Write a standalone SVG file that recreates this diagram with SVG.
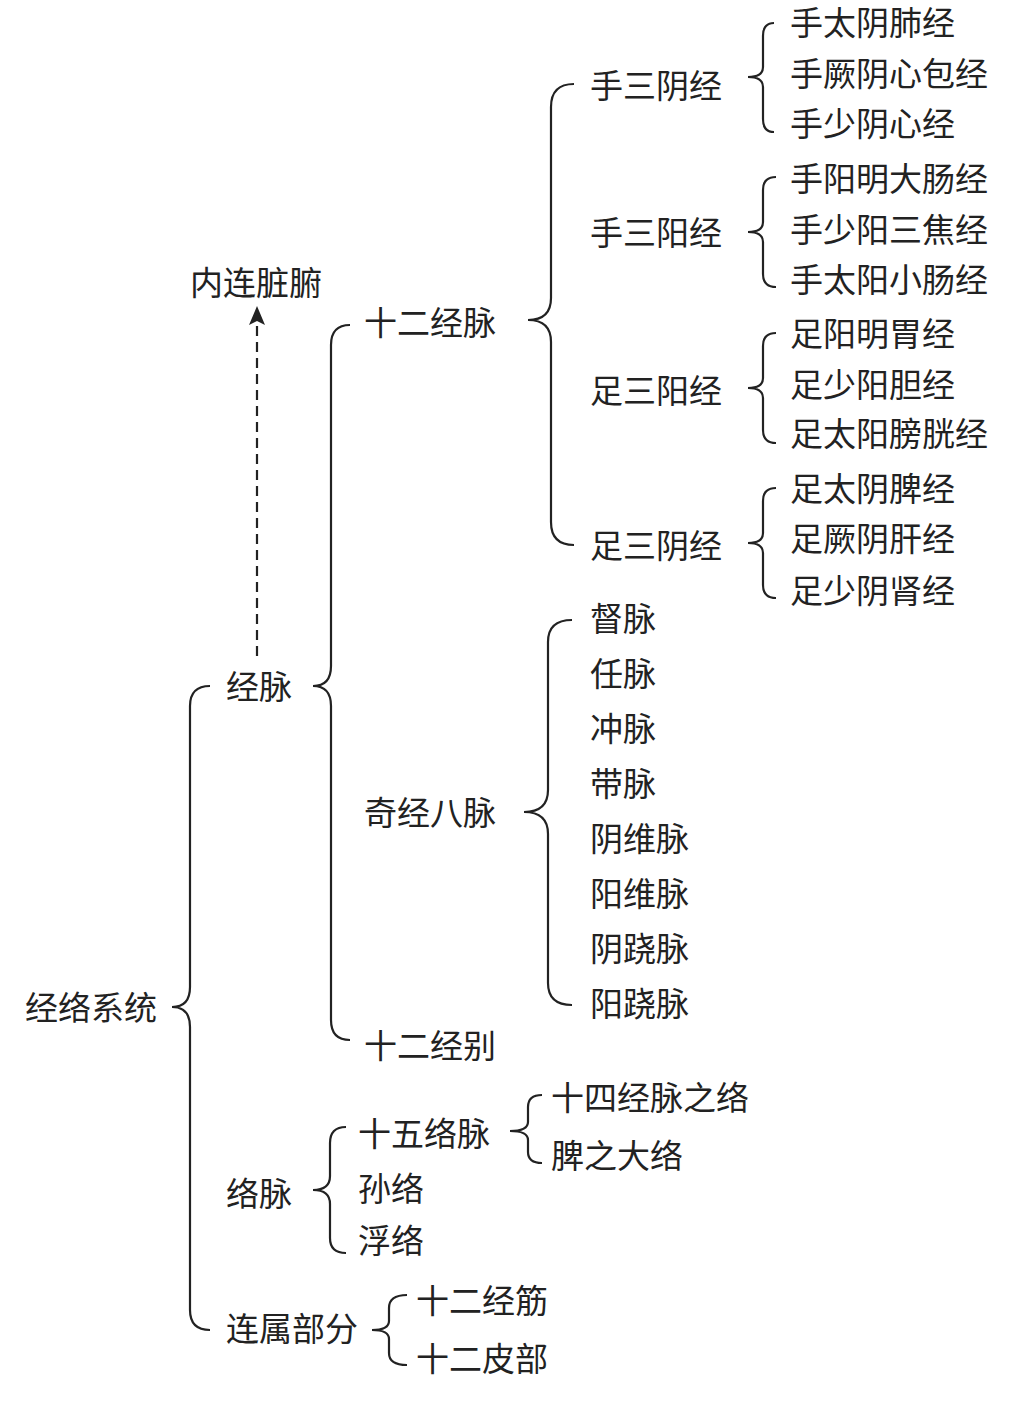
<svg xmlns="http://www.w3.org/2000/svg" width="1015" height="1409" viewBox="0 0 1015 1409">
<style>
text{font-family:"Liberation Serif","Noto Sans CJK SC",serif;font-size:33px;fill:#222;dominant-baseline:central}
.br{fill:none;stroke:#222;stroke-width:2.2}
.dash{fill:none;stroke:#222;stroke-width:2.2;stroke-dasharray:10,6}
</style>
<rect width="1015" height="1409" fill="#fff"/>
<g id="connectors">
<path class="br" d="M210,686 Q190,686 190,706 L190,987 Q190,1007 172,1007 Q190,1007 190,1027 L190,1310 Q190,1330 210,1330"/>
<path class="br" d="M350,325 Q331,325 331,345 L331,666 Q331,686 313,686 Q331,686 331,706 L331,1020 Q331,1040 350,1040"/>
<path class="br" d="M574,84 Q551,84 551,107 L551,298 Q551,320 528,320 Q551,320 551,342 L551,522 Q551,545 574,545"/>
<path class="br" d="M774,23 Q763,23 763,36 L763,67 Q763,77 748,77 Q763,77 763,87 L763,119 Q763,132 774,132"/>
<path class="br" d="M776,177 Q763,177 763,190 L763,222 Q763,232 748,232 Q763,232 763,242 L763,274 Q763,287 776,287"/>
<path class="br" d="M776,333 Q763,333 763,346 L763,378 Q763,388 748,388 Q763,388 763,398 L763,430 Q763,443 776,443"/>
<path class="br" d="M776,488 Q763,488 763,501 L763,533 Q763,543 748,543 Q763,543 763,553 L763,585 Q763,598 776,598"/>
<path class="br" d="M572,620 Q548,620 548,642 L548,790 Q548,812 524,812 Q548,812 548,834 L548,983 Q548,1005 572,1005"/>
<path class="br" d="M346,1127 Q330,1127 330,1143 L330,1176 Q330,1190 313,1190 Q330,1190 330,1204 L330,1238 Q330,1253 346,1253"/>
<path class="br" d="M542,1095 Q528,1095 528,1107 L528,1122 Q528,1131 510,1131 Q528,1131 528,1140 L528,1152 Q528,1163 542,1163"/>
<path class="br" d="M407,1295 Q389,1295 389,1308 L389,1321 Q389,1330 372,1330 Q389,1330 389,1339 L389,1353 Q389,1365 407,1365"/>
<line class="dash" x1="257" y1="656" x2="257" y2="322"/>
<path d="M257,306 L265,325 L257,321 L249,325 Z" fill="#222"/>
</g>
<g transform="translate(0,2)">
<g id="n-jingluo"><text x="25" y="1007">经络系统</text></g>
<g id="n-jingmai"><text x="226" y="686">经脉</text></g>
<g id="n-neilian"><text x="190" y="282">内连脏腑</text></g>
<g id="n-luomai"><text x="226" y="1193">络脉</text></g>
<g id="n-lianshu"><text x="226" y="1328">连属部分</text></g>
<g id="n-shier"><text x="364" y="322">十二经脉</text></g>
<g id="n-qijing"><text x="364" y="812">奇经八脉</text></g>
<g id="n-jingbie"><text x="364" y="1045">十二经别</text></g>
<g id="n-shousanyin"><text x="590" y="85">手三阴经</text></g>
<g id="n-shousanyang"><text x="590" y="232">手三阳经</text></g>
<g id="n-zusanyang"><text x="590" y="390">足三阳经</text></g>
<g id="n-zusanyin"><text x="590" y="545">足三阴经</text></g>
<g id="n-m1"><text x="790" y="22">手太阴肺经</text></g>
<g id="n-m2"><text x="790" y="73">手厥阴心包经</text></g>
<g id="n-m3"><text x="790" y="123">手少阴心经</text></g>
<g id="n-m4"><text x="790" y="178">手阳明大肠经</text></g>
<g id="n-m5"><text x="790" y="229">手少阳三焦经</text></g>
<g id="n-m6"><text x="790" y="279">手太阳小肠经</text></g>
<g id="n-m7"><text x="790" y="333">足阳明胃经</text></g>
<g id="n-m8"><text x="790" y="384">足少阳胆经</text></g>
<g id="n-m9"><text x="790" y="433">足太阳膀胱经</text></g>
<g id="n-m10"><text x="790" y="488">足太阴脾经</text></g>
<g id="n-m11"><text x="790" y="538">足厥阴肝经</text></g>
<g id="n-m12"><text x="790" y="590">足少阴肾经</text></g>
<g id="n-du"><text x="590" y="618">督脉</text></g>
<g id="n-ren"><text x="590" y="673">任脉</text></g>
<g id="n-chong"><text x="590" y="728">冲脉</text></g>
<g id="n-dai"><text x="590" y="783">带脉</text></g>
<g id="n-yinwei"><text x="590" y="838">阴维脉</text></g>
<g id="n-yangwei"><text x="590" y="893">阳维脉</text></g>
<g id="n-yinqiao"><text x="590" y="948">阴跷脉</text></g>
<g id="n-yangqiao"><text x="590" y="1003">阳跷脉</text></g>
<g id="n-shiwu"><text x="358" y="1133">十五络脉</text></g>
<g id="n-sun"><text x="358" y="1188">孙络</text></g>
<g id="n-fu"><text x="358" y="1240">浮络</text></g>
<g id="n-shisi"><text x="551" y="1097">十四经脉之络</text></g>
<g id="n-pi"><text x="551" y="1155">脾之大络</text></g>
<g id="n-jingjin"><text x="416" y="1300">十二经筋</text></g>
<g id="n-pibu"><text x="416" y="1358">十二皮部</text></g>
</g>
</svg>
